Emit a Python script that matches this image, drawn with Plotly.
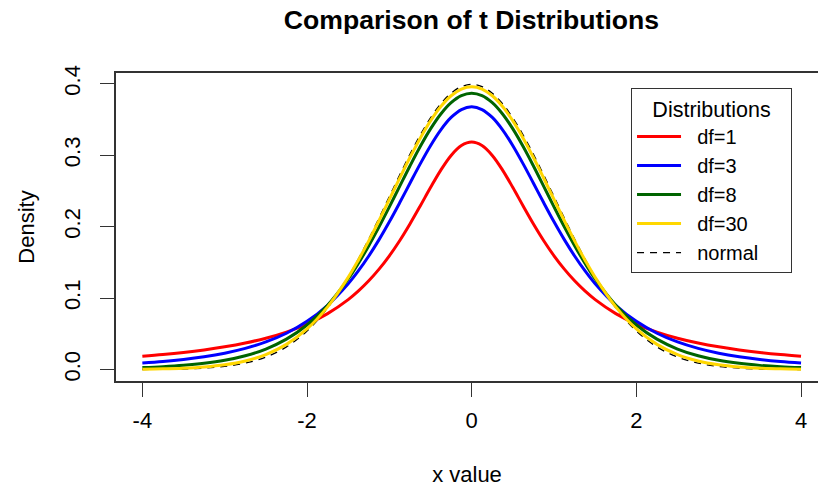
import plotly.graph_objects as go

# ---- data (density values; finer spacing near the peak) ----
x_vals = [-4.0, -3.75, -3.5, -3.25, -3.0, -2.75, -2.5, -2.25, -2.0, -1.75, -1.5,
          -1.375, -1.25, -1.125, -1.0, -0.875, -0.75, -0.625, -0.5, -0.375, -0.25, -0.125,
          0.0,
          0.125, 0.25, 0.375, 0.5, 0.625, 0.75, 0.875, 1.0, 1.125, 1.25, 1.375,
          1.5, 1.75, 2.0, 2.25, 2.5, 2.75, 3.0, 3.25, 3.5, 3.75, 4.0]

df1 = [0.01872, 0.02113, 0.02402, 0.02753, 0.03183, 0.03717, 0.04390, 0.05250, 0.06366, 0.07835, 0.09794,
       0.11012, 0.12422, 0.14050, 0.15915, 0.18028, 0.20372, 0.22890, 0.25465, 0.27907, 0.29959, 0.31341,
       0.31831,
       0.31341, 0.29959, 0.27907, 0.25465, 0.22890, 0.20372, 0.18028, 0.15915, 0.14050, 0.12422, 0.11012,
       0.09794, 0.07835, 0.06366, 0.05250, 0.04390, 0.03717, 0.03183, 0.02753, 0.02402, 0.02113, 0.01872]

df3 = [0.00916, 0.01136, 0.01422, 0.01798, 0.02297, 0.02965, 0.03866, 0.05089, 0.06751, 0.09000, 0.12002,
       0.13830, 0.15891, 0.18180, 0.20675, 0.23329, 0.26064, 0.28774, 0.31318, 0.33537, 0.35270, 0.36375,
       0.36755,
       0.36375, 0.35270, 0.33537, 0.31318, 0.28774, 0.26064, 0.23329, 0.20675, 0.18180, 0.15891, 0.13830,
       0.12002, 0.09000, 0.06751, 0.05089, 0.03866, 0.02965, 0.02297, 0.01798, 0.01422, 0.01136, 0.00916]

df8 = [0.00276, 0.00403, 0.00592, 0.00876, 0.01301, 0.01936, 0.02878, 0.04258, 0.06237, 0.08993, 0.12677,
       0.14886, 0.17326, 0.19968, 0.22761, 0.25630, 0.28481, 0.31204, 0.33669, 0.35754, 0.37339, 0.38332,
       0.38670,
       0.38332, 0.37339, 0.35754, 0.33669, 0.31204, 0.28481, 0.25630, 0.22761, 0.19968, 0.17326, 0.14886,
       0.12677, 0.08993, 0.06237, 0.04258, 0.02878, 0.01936, 0.01301, 0.00876, 0.00592, 0.00403, 0.00276]

df30 = [0.00052, 0.00102, 0.00196, 0.00369, 0.00678, 0.01213, 0.02105, 0.03528, 0.05685, 0.08769, 0.12896,
        0.15343, 0.18010, 0.20851, 0.23799, 0.26770, 0.29663, 0.32375, 0.34788, 0.36797, 0.38307, 0.39245,
        0.39563,
        0.39245, 0.38307, 0.36797, 0.34788, 0.32375, 0.29663, 0.26770, 0.23799, 0.20851, 0.18010, 0.15343,
        0.12896, 0.08769, 0.05685, 0.03528, 0.02105, 0.01213, 0.00678, 0.00369, 0.00196, 0.00102, 0.00052]

normal = [0.00013, 0.00035, 0.00087, 0.00203, 0.00443, 0.00909, 0.01753, 0.03174, 0.05399, 0.08628, 0.12952,
          0.15501, 0.18265, 0.21188, 0.24197, 0.27206, 0.30114, 0.32816, 0.35207, 0.37186, 0.38667, 0.39584,
          0.39894,
          0.39584, 0.38667, 0.37186, 0.35207, 0.32816, 0.30114, 0.27206, 0.24197, 0.21188, 0.18265, 0.15501,
          0.12952, 0.08628, 0.05399, 0.03174, 0.01753, 0.00909, 0.00443, 0.00203, 0.00087, 0.00035, 0.00013]

series_names = ["df=1", "df=3", "df=8", "df=30", "normal"]
legend_title = "Distributions"
x_tick_vals = [-4, -2, 0, 2, 4]
x_tick_text = ["-4", "-2", "0", "2", "4"]
y_tick_vals = [0.0, 0.1, 0.2, 0.3, 0.4]
y_tick_text = ["0.0", "0.1", "0.2", "0.3", "0.4"]

FONT = "Liberation Sans, Arial, Helvetica, sans-serif"
AXC = "#333333"
NB = "\u00a0"

fig = go.Figure()

# normal drawn first (dashed, thin), as in the base plot
fig.add_trace(go.Scatter(x=x_vals, y=normal, mode="lines", name=NB * 2 + series_names[4],
                         line=dict(color="black", width=1.3, dash="7px,6px", shape="spline"),
                         legendrank=5))
colors = ["#FF0000", "#0000FF", "#006400", "#FFD700"]
for i, ys in enumerate([df1, df3, df8, df30]):
    fig.add_trace(go.Scatter(x=x_vals, y=ys, mode="lines", name=NB * 2 + series_names[i],
                             line=dict(color=colors[i], width=3, shape="spline"),
                             legendrank=i + 1))

fig.update_layout(
    width=818, height=489, autosize=False,
    margin=dict(l=116, r=0, t=73, b=108),
    paper_bgcolor="white", plot_bgcolor="white",
    font=dict(family=FONT, size=22, color="black"),
    title=dict(text="<b>Comparison of t Distributions</b>", font=dict(size=26.6, family=FONT),
               x=0.5764, xref="container", xanchor="center",
               y=1 - 20 / 489, yref="container", yanchor="middle"),
    xaxis=dict(range=[-4.32, 4.206], tickvals=x_tick_vals, ticktext=x_tick_text,
               ticks="outside", ticklen=14, tickwidth=1.3, tickcolor=AXC,
               showline=True, linecolor=AXC, linewidth=1.5, mirror=True,
               showgrid=False, zeroline=False, tickfont=dict(size=22),
               ticklabelstandoff=5,
               title=dict(text="x value", font=dict(size=22), standoff=34)),
    yaxis=dict(range=[-0.01595, 0.41488], tickvals=y_tick_vals, ticktext=y_tick_text,
               tickangle=-90, ticks="outside", ticklen=14, tickwidth=1.3, tickcolor=AXC,
               showline=True, linecolor=AXC, linewidth=1.5, mirror=False,
               showgrid=False, zeroline=False, tickfont=dict(size=22),
               ticklabelstandoff=11,
               title=dict(text="Density", font=dict(size=22), standoff=20)),
    legend=dict(x=0.963, xanchor="right", y=0.951, yanchor="top",
                bordercolor="#333333", borderwidth=1, bgcolor="white",
                font=dict(size=20), traceorder="normal", itemwidth=44,
                title=dict(text=NB * 3 + legend_title + NB * 3, side="top center",
                           font=dict(size=21.5))),
    showlegend=True,
)

fig.write_html("out.html", config={"displayModeBar": False},
               post_script="document.body.style.margin='0px';")
